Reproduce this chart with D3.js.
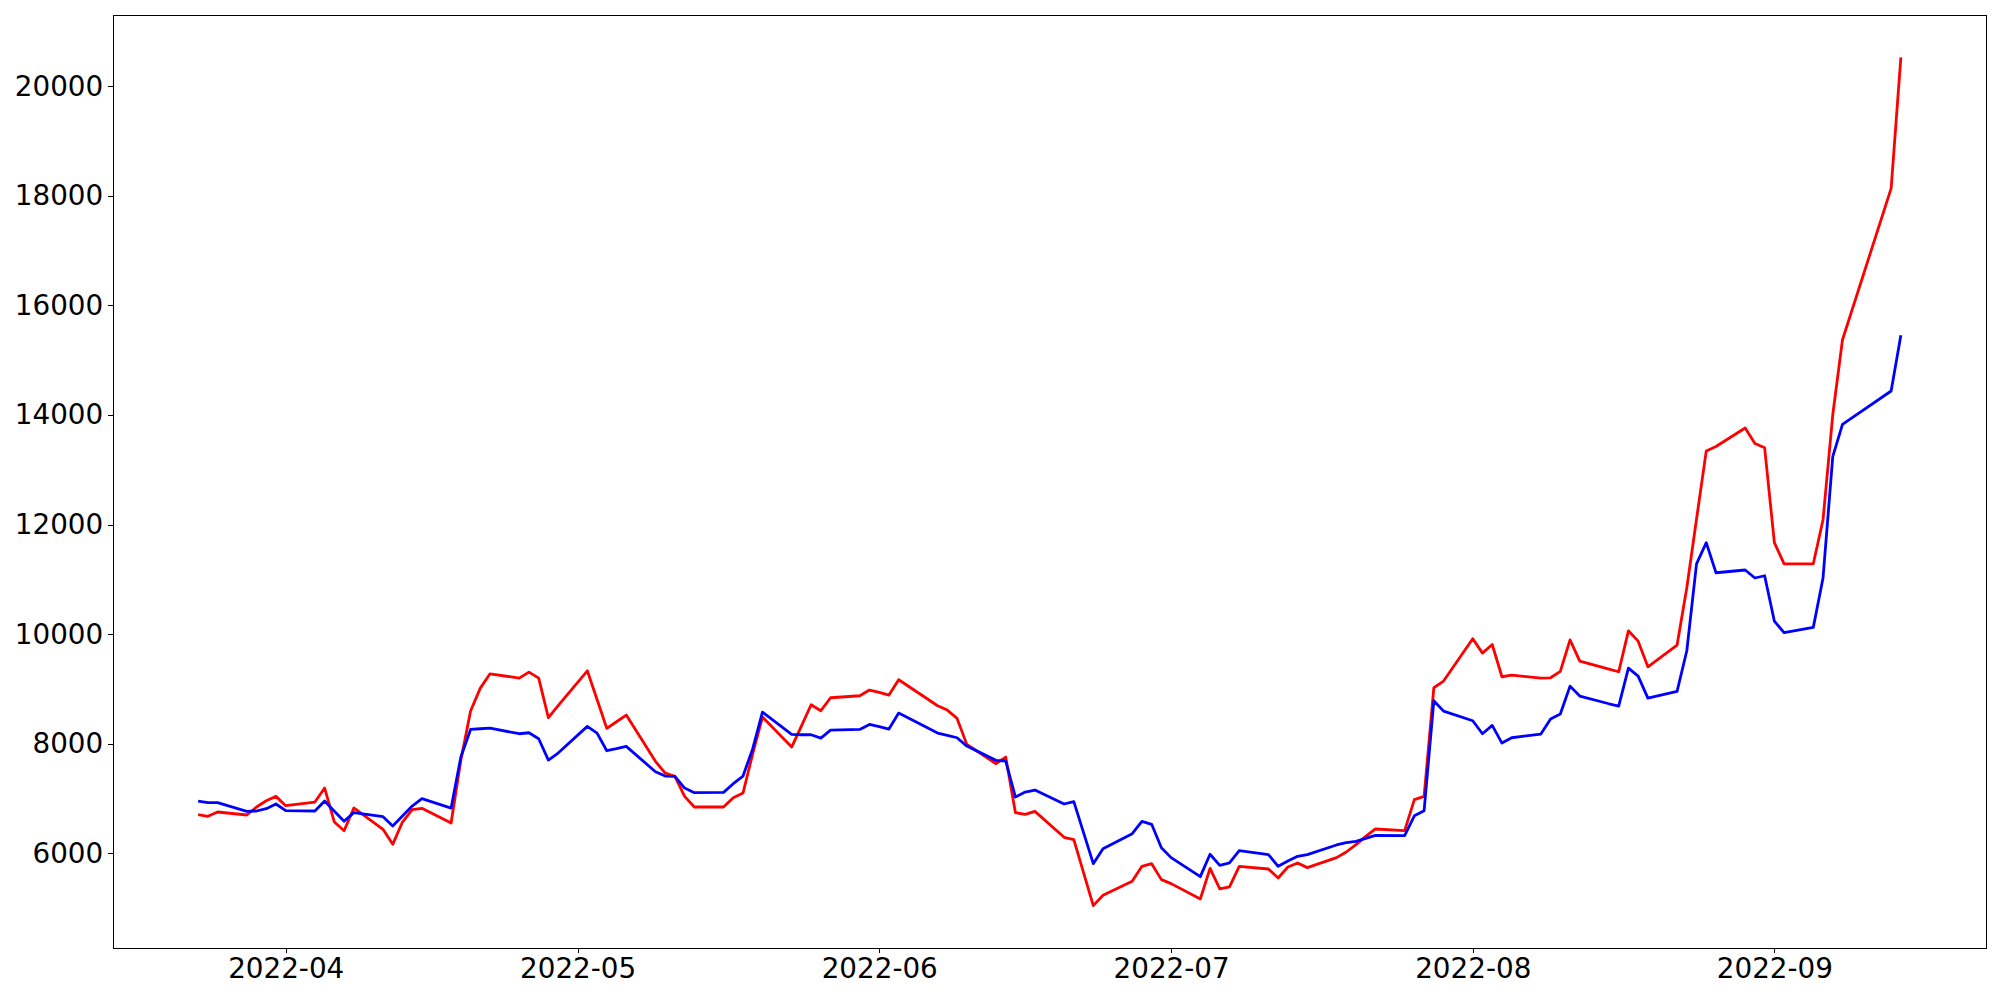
<!DOCTYPE html>
<meta charset="utf-8">
<script src="https://d3js.org/d3.v7.min.js"></script>
<style>
  body { margin: 0; background: #fff; }
  .tick text { font-family: "DejaVu Sans", sans-serif; font-size: 27.8px; fill: #000; }
</style>
<div id="chart"></div>
<script>

// trading days shown in the chart
var dates = [
  "2022-03-23","2022-03-24","2022-03-25","2022-03-28","2022-03-29","2022-03-30","2022-03-31",
  "2022-04-01","2022-04-04","2022-04-05","2022-04-06","2022-04-07","2022-04-08","2022-04-11",
  "2022-04-12","2022-04-13","2022-04-14","2022-04-15","2022-04-18","2022-04-19","2022-04-20",
  "2022-04-21","2022-04-22","2022-04-25","2022-04-26","2022-04-27","2022-04-28","2022-04-29",
  "2022-05-02","2022-05-03","2022-05-04","2022-05-05","2022-05-06","2022-05-09","2022-05-10",
  "2022-05-11","2022-05-12","2022-05-13","2022-05-16","2022-05-17","2022-05-18","2022-05-19",
  "2022-05-20","2022-05-23","2022-05-24","2022-05-25","2022-05-26","2022-05-27","2022-05-30",
  "2022-05-31","2022-06-01","2022-06-02","2022-06-03","2022-06-06","2022-06-07","2022-06-08",
  "2022-06-09","2022-06-10","2022-06-13","2022-06-14","2022-06-15","2022-06-16","2022-06-17",
  "2022-06-20","2022-06-21","2022-06-22","2022-06-23","2022-06-24","2022-06-27","2022-06-28",
  "2022-06-29","2022-06-30","2022-07-01","2022-07-04","2022-07-05","2022-07-06","2022-07-07",
  "2022-07-08","2022-07-11","2022-07-12","2022-07-13","2022-07-14","2022-07-15","2022-07-18",
  "2022-07-19","2022-07-20","2022-07-21","2022-07-22","2022-07-25","2022-07-26","2022-07-27",
  "2022-07-28","2022-07-29","2022-08-01","2022-08-02","2022-08-03","2022-08-04","2022-08-05",
  "2022-08-08","2022-08-09","2022-08-10","2022-08-11","2022-08-12","2022-08-15","2022-08-16",
  "2022-08-17","2022-08-18","2022-08-19","2022-08-22","2022-08-23","2022-08-24","2022-08-25",
  "2022-08-26","2022-08-29","2022-08-30","2022-08-31","2022-09-01","2022-09-02","2022-09-05",
  "2022-09-06","2022-09-07","2022-09-08","2022-09-13","2022-09-14"
];

var redValues = [
  6705, 6675, 6754, 6699, 6845, 6960, 7039,
  6869, 6936, 7191, 6571, 6413, 6827, 6438,
  6164, 6571, 6796, 6821, 6553, 7700, 8596,
  9015, 9276, 9197, 9307, 9197, 8474, 8693,
  9331, 8808, 8279, 8401, 8523, 7678, 7465,
  7404, 7039, 6845, 6845, 7015, 7100, 7817,
  8486, 7939, 8322, 8711, 8601, 8839, 8875,
  8979, 8936, 8887, 9167, 8812, 8693, 8614,
  8462, 7988, 7635, 7757, 6742, 6711, 6766,
  6292, 6249, 5647, 5046, 5234, 5489, 5763,
  5811, 5520, 5447, 5167, 5726, 5350, 5386,
  5763, 5714, 5550, 5751, 5824, 5739, 5921,
  6024, 6158, 6310, 6444, 6413, 6980, 7039,
  9021, 9143, 9915, 9653, 9811, 9222, 9252,
  9197, 9203, 9319, 9896, 9507, 9361, 9313,
  10060, 9872, 9404, 9800, 10847, 12100, 13343,
  13424, 13761, 13479, 13400, 11669, 11283, 11283,
  12087, 14003, 15371, 18134, 20524
];

var blueValues = [
  6954, 6924, 6924, 6766, 6772, 6815, 6900,
  6778, 6772, 6954, 6766, 6584, 6742, 6669,
  6498, 6681, 6863, 6997, 6826, 7757, 8261,
  8273, 8285, 8182, 8200, 8091, 7702, 7830,
  8316, 8194, 7872, 7909, 7951, 7489, 7410,
  7404, 7191, 7106, 7112, 7270, 7410, 7909,
  8577, 8170, 8164, 8164, 8103, 8249, 8261,
  8352, 8310, 8267, 8559, 8285, 8194, 8152,
  8109, 7957, 7696, 7684, 7027, 7118, 7155,
  6900, 6942, 6377, 5811, 6085, 6359, 6584,
  6529, 6103, 5921, 5574, 5982, 5781, 5824,
  6049, 5976, 5763, 5860, 5945, 5976, 6152,
  6194, 6219, 6274, 6328, 6322, 6685, 6778,
  8784, 8595, 8419, 8182, 8334, 8012, 8109,
  8176, 8450, 8541, 9051, 8869, 8729, 8687,
  9380, 9234, 8833, 8956, 9696, 11283, 11669,
  11120, 11170, 11024, 11065, 10236, 10026, 10123,
  11024, 13239, 13826, 14437, 15453
];

var yTicks = [6000, 8000, 10000, 12000, 14000, 16000, 18000, 20000];
var monthTicks = ["2022-04-01","2022-05-01","2022-06-01","2022-07-01","2022-08-01","2022-09-01"];

var margin = {top: 15, right: 14, bottom: 52, left: 113},
    width = 2000 - margin.left - margin.right,
    height = 1000 - margin.top - margin.bottom;

var svg = d3.select("#chart")
  .append("svg")
    .attr("width", 2000)
    .attr("height", 1000)
  .append("g")
    .attr("transform", "translate(" + margin.left + "," + margin.top + ")");

var parse = d3.timeParse("%Y-%m-%d");
var t = dates.map(parse);

// matplotlib style 5% margins
var tExt = d3.extent(t);
var tPad = (tExt[1] - tExt[0]) * 0.05;
var allVals = redValues.concat(blueValues);
var vExt = d3.extent(allVals);
var vPad = (vExt[1] - vExt[0]) * 0.05;

var x = d3.scaleTime()
  .domain([new Date(+tExt[0] - tPad), new Date(+tExt[1] + tPad)])
  .range([0, width]);

var y = d3.scaleLinear()
  .domain([vExt[0] - vPad, vExt[1] + vPad])
  .range([height, 0]);

var xAxis = svg.append("g")
  .attr("transform", "translate(0," + height + ")")
  .call(d3.axisBottom(x)
    .tickValues(monthTicks.map(parse))
    .tickFormat(d3.timeFormat("%Y-%m"))
    .tickSizeInner(4.9).tickSizeOuter(0).tickPadding(4.9));

var yAxis = svg.append("g")
  .call(d3.axisLeft(y)
    .tickValues(yTicks)
    .tickFormat(d3.format("d"))
    .tickSizeInner(4.9).tickSizeOuter(0).tickPadding(4.9));

svg.selectAll(".domain").remove();
svg.selectAll(".tick line")
  .attr("stroke", "#000")
  .attr("stroke-width", 1)
  .attr("shape-rendering", "crispEdges");

// frame
svg.append("rect")
  .attr("x", 0).attr("y", 0)
  .attr("width", width).attr("height", height)
  .attr("fill", "none")
  .attr("stroke", "#000")
  .attr("stroke-width", 1)
  .attr("shape-rendering", "crispEdges");

var line = d3.line()
  .x(function(d, i) { return x(t[i]); })
  .y(function(d) { return y(d); });

svg.append("path")
  .datum(redValues)
  .attr("fill", "none")
  .attr("stroke", "#ff0000")
  .attr("stroke-width", 2.8)
  .attr("stroke-linejoin", "round")
  .attr("d", line);

svg.append("path")
  .datum(blueValues)
  .attr("fill", "none")
  .attr("stroke", "#0000ff")
  .attr("stroke-width", 2.8)
  .attr("stroke-linejoin", "round")
  .attr("d", line);

</script>
